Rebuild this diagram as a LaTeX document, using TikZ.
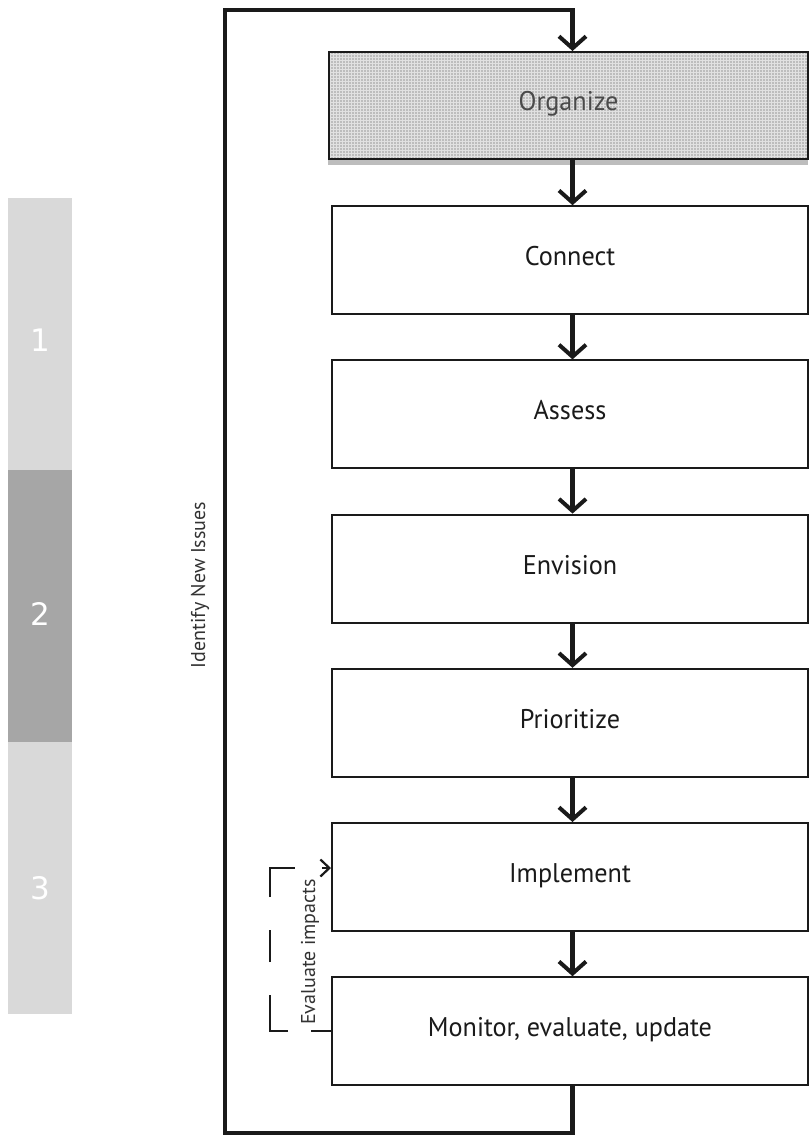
\documentclass[tikz,border=0pt]{standalone}
\usepackage{fontspec}
\setmainfont{PT Sans}
\newfontfamily\boxfont[FakeStretch=0.97]{PT Sans}
\newfontfamily\numfont{DejaVu Sans}
\usetikzlibrary{arrows.meta,patterns}
\definecolor{barlight}{HTML}{D9D9D9}
\definecolor{bardark}{HTML}{A6A6A6}
\definecolor{orgfill}{HTML}{BDBDBD}
\definecolor{orgtext}{HTML}{4A4A4A}
\definecolor{ink}{HTML}{1A1A1A}
\definecolor{sidetext}{HTML}{333333}

\begin{document}
\begin{tikzpicture}[x=1pt,y=-1pt,
  stepbox/.style={draw=ink, line width=2pt, fill=white, minimum width=476pt,
    minimum height=108pt, inner sep=0pt, text=ink, text height=11pt, text depth=0pt,
    font=\boxfont\fontsize{27}{32}\selectfont},
  flow/.style={draw=ink, line width=4.5pt, line join=miter,
    -{Straight Barb[length=12pt,width=27pt,line width=4pt]}},
  loopline/.style={draw=ink, line width=4.8pt, line join=miter,
    -{Straight Barb[length=12pt,width=27pt,line width=4pt]}},
  evalline/.style={draw=ink, line width=2.5pt, line join=miter,
    dash pattern=on 20pt off 23pt on 54pt off 33pt on 32pt off 33pt on 54pt off 27pt on 40pt,
    -{Straight Barb[length=9pt,width=17pt,line width=2.2pt]}},
  sidelabel/.style={text=sidetext, inner sep=0pt, rotate=90,
    font=\fontsize{20}{24}\selectfont},
  phase/.style={text=white, font=\numfont\fontsize{31}{36}\selectfont}
]
\useasboundingbox (0,0) rectangle (810,1137);
\fill[white] (0,0) rectangle (810,1137);

% phase bars on the left
\fill[barlight] (8,198) rectangle (72,470);
\fill[bardark]  (8,470) rectangle (72,742);
\fill[barlight] (8,742) rectangle (72,1014);
\node[phase] (p1) at (40,340) {1};
\node[phase] (p2) at (40,614) {2};
\node[phase] (p3) at (40,888) {3};

% process steps
\fill[orgfill] (328,150) rectangle (808,165);
\node[stepbox, minimum width=479pt, minimum height=107pt, text=orgtext,
  preaction={fill=orgfill}, pattern=grid, pattern color=white!55!orgfill]
  (organize) at (568.5,105.5) {Organize};
\node[stepbox] (connect)   at (570,260.2) {Connect};
\node[stepbox] (assess)    at (570,414.4) {Assess};
\node[stepbox] (envision)  at (570,568.6) {Envision};
\node[stepbox] (prioritize) at (570,722.8) {Prioritize};
\node[stepbox] (implement) at (570,877) {Implement};
\node[stepbox] (monitor)   at (570,1031.2) {Monitor, evaluate, update};

% column of the main flow and corners of the feedback loop
\coordinate (col) at (572.5,0);
\coordinate (lb) at (225,1133);
\coordinate (lt) at (225,10);
\coordinate (dl) at (270,0);

\draw[flow] (organize.south -| col) -- (connect.north -| col);
\draw[flow] (connect.south -| col) -- (assess.north -| col);
\draw[flow] (assess.south -| col) -- (envision.north -| col);
\draw[flow] (envision.south -| col) -- (prioritize.north -| col);
\draw[flow] (prioritize.south -| col) -- (implement.north -| col);
\draw[flow] (implement.south -| col) -- (monitor.north -| col);

% outer loop back to the start
\draw[loopline] (monitor.south -| col) |- (lb) -- (lt) -| (organize.north -| col);
\node[sidelabel] (identify) at (200,585) {Identify New Issues};

% inner evaluation loop
\draw[evalline] (monitor.west) -- (monitor.west -| dl) |- ([yshift=9pt]implement.west);
\node[sidelabel] (evaluate) at (310,952) {Evaluate impacts};
\end{tikzpicture}
\end{document}
